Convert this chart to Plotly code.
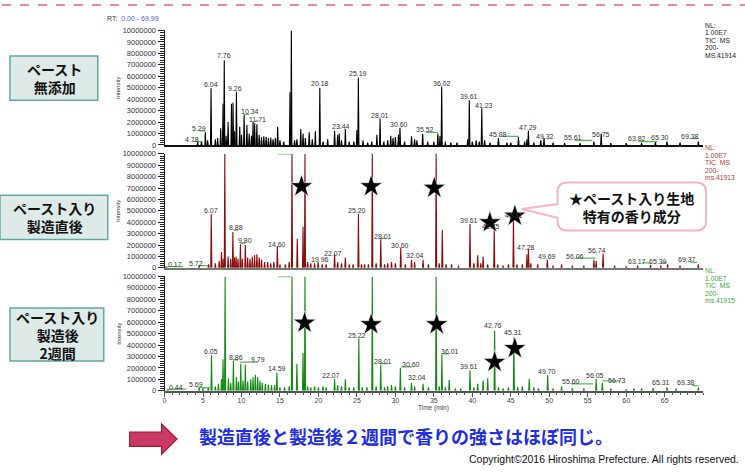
import plotly.graph_objects as go

W, H = 745, 472

# ---------------- DATA (retention time in min, intensity in millions) ----------------
# Panel 1: paste-free control (black)
rt_ctrl = [4.3, 4.8, 5.3, 5.6, 6.04, 6.6, 6.9, 7.3, 7.6, 7.76, 8.0, 8.26, 8.7, 8.9, 9.1, 9.34, 9.77, 10.0,
           10.34, 10.7, 11.0, 11.3, 11.5, 11.71, 12.0, 12.3, 12.6, 12.9, 13.2, 13.5, 13.8, 14.1, 14.4, 14.7,
           15.0, 15.5, 16.3, 16.48, 16.9, 17.2, 17.7, 18.0, 18.3, 18.8, 19.2, 19.6, 20.18, 20.6, 21.2, 22.1,
           22.5, 22.7, 23.0, 23.5, 24.0, 24.6, 25.0, 25.19, 25.8, 26.4, 26.93, 27.6, 28.01, 28.5, 29.0, 29.4,
           29.7, 30.0, 30.4, 30.6, 31.2, 32.1, 32.5, 32.8, 33.55, 34.2, 35.0, 35.52, 35.8, 36.02, 36.5, 37.2,
           38.0, 39.4, 39.61, 40.0, 40.5, 40.9, 41.23, 41.6, 42.3, 43.4, 44.5, 45.0, 46.0, 46.8, 47.1, 47.29,
           48.0, 48.9, 49.32, 50.5, 52.0, 54.0, 55.8, 56.75, 58.0, 60.0, 62.0, 63.8, 65.3, 67.0, 69.38]
ht_ctrl = [0.3, 0.35, 1.1, 0.4, 4.95, 0.5, 0.6, 1.45, 3.6, 7.4, 0.8, 2.0, 3.6, 3.7, 1.2, 4.65, 1.6, 0.9,
           2.65, 1.75, 1.0, 0.8, 2.0, 1.9, 1.8, 0.9, 0.7, 0.75, 0.7, 0.6, 0.65, 0.5, 0.6, 1.6,
           0.4, 0.3, 4.6, 10.0, 0.4, 0.5, 1.4, 1.0, 0.6, 1.1, 0.5, 1.2, 5.0, 0.3, 0.5, 1.25,
           0.9, 1.0, 0.4, 1.4, 0.3, 0.3, 1.3, 5.9, 0.4, 0.2, 0.3, 0.9, 2.3, 0.3, 0.4, 0.8,
           0.6, 0.7, 0.9, 1.5, 0.3, 0.75, 0.5, 0.4, 0.95, 0.3, 0.3, 1.0, 0.8, 5.1, 0.3, 0.2,
           0.2, 0.5, 3.9, 0.3, 0.4, 0.3, 3.2, 0.4, 0.2, 0.6, 0.2, 0.2, 0.7, 0.3, 0.5, 1.25,
           0.2, 0.4, 0.6, 0.2, 0.15, 0.15, 0.3, 1.0, 0.15, 0.15, 0.2, 0.25, 0.3, 0.2, 0.3]

# Panel 2: with paste, right after production (dark red)
rt_fresh = [0.17, 4.5, 5.72, 6.07, 6.6, 7.1, 7.4, 7.6, 7.83, 8.26, 8.6, 8.88, 9.1, 9.3, 9.55, 9.86, 10.1,
            10.5, 10.8, 11.1, 11.4, 11.7, 12.0, 12.3, 12.6, 13.0, 13.4, 13.8, 14.2, 14.66, 15.0, 15.7, 16.2,
            16.56, 17.25, 18.0, 18.25, 18.6, 19.0, 19.5, 19.96, 20.5, 21.0, 22.1, 22.5, 23.0, 23.5, 24.0,
            24.5, 25.2, 25.6, 26.0, 26.5, 27.0, 27.5, 28.1, 28.6, 29.0, 29.5, 30.0, 30.7, 31.3, 32.1, 32.5,
            33.6, 34.3, 35.3, 35.7, 36.1, 36.6, 37.3, 38.2, 39.7, 40.2, 40.7, 41.1, 41.4, 42.0, 42.85, 43.3,
            44.0, 44.7, 45.35, 45.8, 46.5, 47.1, 47.3, 47.6, 48.5, 49.75, 50.5, 51.6, 53.0, 54.5, 55.8, 56.1,
            57.0, 58.5, 60.0, 61.5, 63.17, 64.5, 65.39, 67.0, 69.37]
ht_fresh = [0.1, 0.2, 0.3, 4.73, 0.4, 0.6, 1.4, 0.8, 10.0, 1.0, 0.8, 3.15, 0.9, 1.0, 0.8, 2.04, 0.8,
            2.0, 0.9, 0.8, 1.0, 1.1, 1.2, 0.9, 0.7, 0.5, 0.5, 0.4, 0.5, 1.9, 0.3, 0.3, 0.5,
            10.0, 2.55, 3.6, 10.0, 0.5, 0.4, 0.4, 0.5, 0.3, 0.3, 1.2, 0.5, 0.4, 0.9, 0.3,
            0.3, 4.73, 0.3, 0.3, 0.3, 10.0, 0.4, 2.5, 0.3, 0.4, 0.5, 0.4, 1.78, 0.3, 0.7, 0.5,
            0.7, 0.3, 10.0, 0.4, 3.35, 0.3, 0.3, 0.2, 3.84, 0.4, 1.1, 0.4, 1.0, 0.3, 3.35, 0.3,
            0.2, 0.3, 4.3, 0.3, 0.3, 1.2, 1.63, 0.4, 0.3, 0.7, 0.2, 0.3, 0.2, 0.2, 0.7, 0.6,
            1.26, 0.2, 0.15, 0.2, 0.25, 0.2, 0.3, 0.2, 0.3]

# Panel 3: with paste, two weeks after production (green)
rt_2wk = [0.44, 4.5, 5.0, 5.69, 6.1, 6.6, 7.0, 7.4, 7.6, 7.87, 8.3, 8.6, 8.95, 9.34, 9.6, 9.9, 10.2, 10.5,
          10.8, 11.2, 11.5, 11.8, 12.1, 12.4, 12.7, 13.1, 13.5, 13.9, 14.3, 14.6, 15.0, 15.6, 16.2, 16.56,
          17.2, 18.0, 18.25, 18.6, 19.0, 19.5, 20.0, 20.6, 21.0, 22.1, 22.5, 23.0, 23.5, 24.0, 24.6, 25.25,
          25.7, 26.3, 27.0, 27.5, 28.1, 28.6, 29.0, 29.5, 30.0, 30.65, 31.2, 32.1, 32.5, 33.6, 34.3, 35.3,
          35.7, 36.05, 36.5, 37.0, 37.8, 38.5, 39.7, 40.2, 40.7, 41.4, 42.0, 42.9, 43.4, 44.0, 44.7, 45.4,
          45.9, 46.5, 47.4, 48.0, 48.6, 49.8, 50.5, 51.6, 53.0, 54.5, 56.1, 56.9, 58.0, 60.0, 61.0, 62.0,
          63.5, 65.31, 66.5, 69.38]
ht_2wk = [0.1, 0.3, 0.25, 0.3, 3.1, 0.4, 0.6, 1.03, 2.75, 10.0, 1.1, 0.7, 2.6, 1.2, 0.8, 2.37, 0.9, 2.3,
          0.8, 1.0, 1.2, 1.4, 1.2, 0.9, 0.7, 0.6, 0.5, 0.5, 0.5, 1.6, 0.3, 0.3, 0.4, 10.0,
          2.37, 3.3, 10.0, 0.4, 0.3, 0.4, 0.3, 0.4, 0.3, 1.0, 0.5, 0.4, 1.0, 0.3, 0.3, 4.57,
          0.3, 0.3, 10.0, 0.4, 2.28, 0.3, 0.4, 0.5, 0.4, 2.0, 0.3, 0.7, 0.4, 0.6, 0.3, 10.0,
          0.4, 3.2, 0.3, 0.94, 0.2, 0.2, 1.8, 0.3, 0.6, 0.9, 1.1, 5.28, 0.3, 0.2, 0.3, 4.66,
          0.3, 0.4, 1.03, 0.3, 0.2, 1.37, 0.2, 0.4, 0.2, 0.2, 1.03, 0.7, 0.2, 0.15, 0.2, 0.2,
          0.25, 0.3, 0.2, 0.3]

# Peak labels: text, anchor rt, anchor intensity (millions)
lab1_txt = ["4.78", "5.29", "6.04", "7.76", "9.26", "10.34", "11.71", "16.48", "20.18", "23.44", "25.19",
            "28.01", "30.60", "35.52", "36.02", "39.61", "41.23", "45.88", "47.29", "49.32", "55.61",
            "56.75", "63.82", "65.30", "69.38"]
lab1_x = [3.6, 4.5, 6.1, 7.74, 9.2, 11.07, 12.06, 16.47, 20.23, 22.9, 25.2, 28.05, 30.5, 33.9, 36.06,
          39.6, 41.47, 43.3, 47.25, 49.4, 53.1, 56.7, 61.4, 64.4, 68.3]
lab1_y = [0.46, 1.43, 5.3, 7.8, 4.94, 2.9, 2.26, 10.37, 5.37, 1.6, 6.23, 2.6, 1.8, 1.37, 5.4, 4.26, 3.46,
          0.94, 1.52, 0.75, 0.66, 0.89, 0.6, 0.66, 0.77]

lab2_txt = ["0.17", "5.72", "6.07", "7.83", "8.88", "9.80", "14.60", "16.49", "18.16", "19.96", "22.07",
            "25.20", "26.93", "28.01", "30.60", "32.04", "35.21", "39.61", "42.75", "45.31", "47.28",
            "49.69", "56.06", "56.74", "63.17", "65.39", "69.37"]
lab2_x = [1.34, 4.15, 6.1, 7.82, 9.34, 10.5, 14.6, 14.4, 18.2, 20.15, 21.9, 25.0, 26.9, 28.45, 30.6,
          32.6, 35.15, 39.6, 42.4, 45.4, 46.95, 49.77, 53.4, 56.2, 61.4, 64.1, 67.9]
lab2_y = [0.28, 0.4, 5.07, 10.3, 3.5, 2.4, 2.04, 10.3, 10.3, 0.7, 1.29, 5.07, 10.3, 2.72, 1.98, 1.06,
          10.3, 4.13, 3.59, 4.58, 1.78, 1.0, 1.0, 1.55, 0.6, 0.6, 0.7]

lab3_txt = ["0.44", "5.69", "6.05", "7.79", "8.86", "9.79", "14.59", "16.51", "18.16", "22.07", "25.22",
            "26.94", "28.01", "30.60", "32.04", "35.22", "36.01", "39.61", "42.76", "45.31", "49.70",
            "55.60", "56.05", "56.73", "65.31", "69.38"]
lab3_x = [1.43, 4.15, 6.1, 7.74, 9.34, 12.15, 14.6, 14.4, 18.2, 21.66, 25.0, 26.9, 28.45, 32.0, 32.8,
          35.2, 37.1, 39.6, 42.7, 45.35, 49.77, 52.8, 56.0, 58.75, 64.5, 67.8]
lab3_y = [0.31, 0.51, 3.46, 10.4, 2.94, 2.71, 1.94, 10.4, 10.4, 1.31, 4.85, 10.4, 2.6, 2.28, 1.17,
          10.4, 3.46, 2.14, 5.71, 5.08, 1.66, 0.8, 1.31, 0.94, 0.71, 0.74]

# Green integration markers: start rt, end rt, level (millions)
gm1_start = [3.72, 4.54, 10.38, 11.8, 34.0, 43.9, 53.3, 61.6, 68.35]
gm1_end = [4.8, 5.32, 11.0, 12.2, 35.5, 46.0, 55.6, 64.1, 69.4]
gm1_lvl = [0.32, 1.23, 2.66, 2.1, 1.09, 0.75, 0.4, 0.29, 0.57]
gm2_start = [0.26, 4.37, 8.95, 9.86, 14.75, 28.05, 53.4, 62.1, 64.5, 68.35]
gm2_end = [2.4, 5.67, 9.56, 10.5, 16.47, 28.8, 56.0, 63.2, 65.3, 69.2]
gm2_lvl = [0.11, 0.2, 3.3, 2.15, 9.98, 2.58, 0.86, 0.43, 0.43, 0.49]
gm3_start = [0.26, 4.37, 8.9, 9.77, 14.75, 28.05, 30.7, 36.15, 52.8, 56.9, 68.6]
gm3_end = [2.85, 5.88, 9.56, 12.15, 16.56, 29.0, 32.2, 37.0, 55.7, 59.3, 69.4]
gm3_lvl = [0.14, 0.28, 2.71, 2.5, 9.98, 2.37, 2.08, 3.22, 0.6, 0.86, 0.45]

# Characteristic aroma components (stars)
star2_rt = [17.8, 26.85, 35.06, 42.28, 45.53]
star2_y = [7.14, 7.14, 7.0, 3.98, 4.56]
star3_rt = [18.2, 26.85, 35.37, 42.9, 45.53]
star3_y = [5.94, 5.8, 5.8, 2.51, 3.71]

y_ticks = list(range(0, 10000001, 1000000))
x_ticks = list(range(0, 66, 5))

panel_names = [["ペースト", "無添加"], ["ペースト入り", "製造直後"], ["ペースト入り", "製造後", "2週間"]]
nl_texts = [["NL:", "1.00E7", "TIC  MS", "200-", "MS.41914"],
            ["NL:", "1.00E7", "TIC  MS", "200-", "ms.41913"],
            ["NL:", "1.00E7", "TIC  MS", "200-", "ms.41915"]]

# ---------------- FIGURE ----------------
def px(x):
    return x / W

def py(y):
    return 1 - y / H

FONT = "Liberation Sans, Arial, sans-serif"
JFONT = "Noto Sans CJK JP, sans-serif"
colors = ["#000000", "#8a0c0c", "#138a13"]
nl_colors = ["#222222", "#a84040", "#3aa63a"]

def spikes(rts, hts, w=0.07):
    xs, ys = [], []
    for r, h in zip(rts, hts):
        xs += [r - w, r, r + w, None]
        ys += [0, h * 1e6, 0, None]
    return xs, ys

def segs(s, e, l):
    xs, ys = [], []
    for a, b, c in zip(s, e, l):
        xs += [a, b, None]
        ys += [c * 1e6, c * 1e6, None]
    return xs, ys

fig = go.Figure()
xrefs = ["x2", "x3", "x"]
yrefs = ["y", "y2", "y3"]
data = [(rt_ctrl, ht_ctrl), (rt_fresh, ht_fresh), (rt_2wk, ht_2wk)]
gms = [(gm1_start, gm1_end, gm1_lvl), (gm2_start, gm2_end, gm2_lvl), (gm3_start, gm3_end, gm3_lvl)]
for i in range(3):
    xs, ys = spikes(*data[i])
    fig.add_trace(go.Scatter(x=xs, y=ys, mode="lines", line=dict(color=colors[i], width=1.1),
                             xaxis=xrefs[i], yaxis=yrefs[i], showlegend=False, hoverinfo="skip"))
    gx, gy = segs(*gms[i])
    fig.add_trace(go.Scatter(x=gx, y=gy, mode="lines", line=dict(color="#55b955", width=1.2),
                             xaxis=xrefs[i], yaxis=yrefs[i], showlegend=False, hoverinfo="skip"))

for sx, sy, xr, yr in [(star2_rt, star2_y, "x3", "y2"), (star3_rt, star3_y, "x", "y3")]:
    fig.add_trace(go.Scatter(x=sx, y=[v * 1e6 for v in sy], mode="markers",
                             marker=dict(symbol="star", size=17, color="black",
                                         line=dict(color="white", width=0.6)),
                             xaxis=xr, yaxis=yr, showlegend=False, hoverinfo="skip", cliponaxis=False))

xdom = [px(163), px(703)]
ydoms = [[py(143.7), py(27)], [py(269), py(152.7)], [py(394.3), py(277.7)]]

yax_common = dict(range=[0, 1e7], showline=True, linecolor="#222", linewidth=1, ticks="outside",
                  ticklen=6, tickcolor="#222", tickvals=y_ticks, ticktext=[str(v) for v in y_ticks],
                  tickfont=dict(size=7.5, family=FONT, color="#333"), showgrid=False, zeroline=False,
                  minor=dict(dtick=200000, ticklen=4, tickcolor="#222", ticks="outside", showgrid=False))

fig.update_layout(
    width=W, height=H, margin=dict(l=0, r=0, t=0, b=0),
    paper_bgcolor="white", plot_bgcolor="rgba(0,0,0,0)",
    xaxis=dict(domain=xdom, range=[0, 70], anchor="y3", showline=True, linecolor="#555", linewidth=1.5,
               ticks="outside", ticklen=4, tickcolor="#555", tickvals=x_ticks, ticklabelstandoff=-2,
               ticktext=[str(v) for v in x_ticks], tickfont=dict(size=7, family=FONT, color="#444"),
               minor=dict(dtick=1, ticklen=2.5, tickcolor="#555", ticks="outside", showgrid=False),
               showgrid=False, zeroline=False),
    xaxis2=dict(domain=xdom, range=[0, 70], anchor="y", showline=True, linecolor="#111", linewidth=2,
                showticklabels=False, ticks="", showgrid=False, zeroline=False),
    xaxis3=dict(domain=xdom, range=[0, 70], anchor="y2", showline=True, linecolor="#777", linewidth=1.5,
                showticklabels=False, ticks="", showgrid=False, zeroline=False),
    yaxis=dict(domain=ydoms[0], anchor="x2", **yax_common),
    yaxis2=dict(domain=ydoms[1], anchor="x3", **yax_common),
    yaxis3=dict(domain=ydoms[2], anchor="x", **yax_common),
)

ann = []
# peak labels
for txts, lx, ly, xr, yr in [(lab1_txt, lab1_x, lab1_y, "x2", "y"), (lab2_txt, lab2_x, lab2_y, "x3", "y2"),
                             (lab3_txt, lab3_x, lab3_y, "x", "y3")]:
    for t, a, b in zip(txts, lx, ly):
        ann.append(dict(x=a, y=b * 1e6, xref=xr, yref=yr, text=t, showarrow=False,
                        font=dict(size=7, family=FONT, color="#333"), xanchor="center", yanchor="middle"))

# Intensity titles
for i, (top, bot) in enumerate([(27, 143.7), (152.7, 269), (277.7, 394.3)]):
    ann.append(dict(x=px(116.5), y=py((top + bot) / 2), xref="paper", yref="paper", text="Intensity",
                    textangle=-90, showarrow=False, font=dict(size=6, family=FONT, color="#333"),
                    xanchor="center", yanchor="middle"))

# NL annotations
nl_tops = [21.7, 146.7, 271.7]
for i in range(3):
    for j, t in enumerate(nl_texts[i]):
        ann.append(dict(x=px(703), y=py(nl_tops[i] + j * 7.65), xref="paper", yref="paper", text=t,
                        showarrow=False, font=dict(size=6.8, family=FONT, color=nl_colors[i]),
                        xanchor="left", yanchor="middle"))

ann.append(dict(x=px(103), y=py(14.7), xref="paper", yref="paper",
                text="RT:  <span style='color:#4a58d0'>0.00 - 69.99</span>", showarrow=False,
                font=dict(size=7, family=FONT, color="#444"), xanchor="left", yanchor="middle"))
ann.append(dict(x=px(433), y=py(412), xref="paper", yref="paper", text="Time (min)", showarrow=False,
                font=dict(size=6.5, family=FONT, color="#444"), xanchor="center", yanchor="middle"))

# Left boxes
boxes = [(8, 96, 53, 98), (-2, 106, 195, 240), (8, 102, 310, 364)]
shapes = []
for (x0, x1, y0, y1), names in zip(boxes, panel_names):
    shapes.append(dict(type="rect", xref="paper", yref="paper", x0=px(x0), x1=px(x1), y0=py(y1), y1=py(y0),
                       fillcolor="#deeae8", line=dict(color="#64a8a2", width=1.5), layer="above"))
    txt = "<br>".join("<b>" + t + "</b>" for t in names)
    ann.append(dict(x=px((x0 + x1) / 2 + 1), y=py((y0 + y1) / 2), xref="paper", yref="paper", text=txt,
                    showarrow=False, font=dict(size=14, family=JFONT, color="#111"),
                    xanchor="center", yanchor="middle"))

# Callout bubble
def P(x, y):
    return f"{px(x):.5f},{py(y):.5f}"

bl, br, bt, bb, r = 557, 706, 182, 231, 10
path = (f"M {P(bl + r, bt)} L {P(br - r, bt)} Q {P(br, bt)} {P(br, bt + r)} L {P(br, bb - r)} "
        f"Q {P(br, bb)} {P(br - r, bb)} L {P(bl + r, bb)} Q {P(bl, bb)} {P(bl, bb - r)} "
        f"L {P(bl, 218)} L {P(521, 209)} L {P(bl, 204)} L {P(bl, bt + r)} Q {P(bl, bt)} {P(bl + r, bt)} Z")
shapes.append(dict(type="path", xref="paper", yref="paper", path=path, fillcolor="white",
                   line=dict(color="#f4b6c2", width=2), layer="below"))
ann.append(dict(x=px(631), y=py(206.5), xref="paper", yref="paper",
                text="<b>★ペースト入り生地</b><br><b>特有の香り成分</b>",
                showarrow=False, font=dict(size=14, family=JFONT, color="#111"), xanchor="center",
                yanchor="middle"))

# Top dashed line
shapes.append(dict(type="line", xref="paper", yref="paper", x0=0, x1=1, y0=py(1), y1=py(1),
                   line=dict(color="#e2608a", width=1.5, dash="dash"), layer="above"))

# Arrow
apath = (f"M {P(128, 436.5)} L {P(160, 436.5)} L {P(160, 428)} L {P(175.5, 443.5)} L {P(160, 459)} "
         f"L {P(160, 451)} L {P(128, 451)} Z")
shapes.append(dict(type="path", xref="paper", yref="paper", path=apath, fillcolor="#c83a68",
                   line=dict(color="#b0152e", width=1.2), layer="above"))

ann.append(dict(x=px(196), y=py(440), xref="paper", yref="paper",
                text="<b>製造直後と製造後２週間で香りの強さはほぼ同じ。</b>", showarrow=False,
                font=dict(size=18, family=JFONT, color="#1f2ee6"), xanchor="left", yanchor="middle"))
ann.append(dict(x=px(741), y=py(464), xref="paper", yref="paper",
                text="Copyright©2016 Hiroshima Prefecture. All rights reserved.", showarrow=False,
                font=dict(size=10.5, family=FONT, color="#111"), xanchor="right", yanchor="middle"))

fig.update_layout(annotations=ann, shapes=shapes)
fig.write_html("out.html", config={"displayModeBar": False},
               post_script="document.body.style.margin='0';document.body.style.padding='0';"
                           "document.body.style.overflow='hidden';")
